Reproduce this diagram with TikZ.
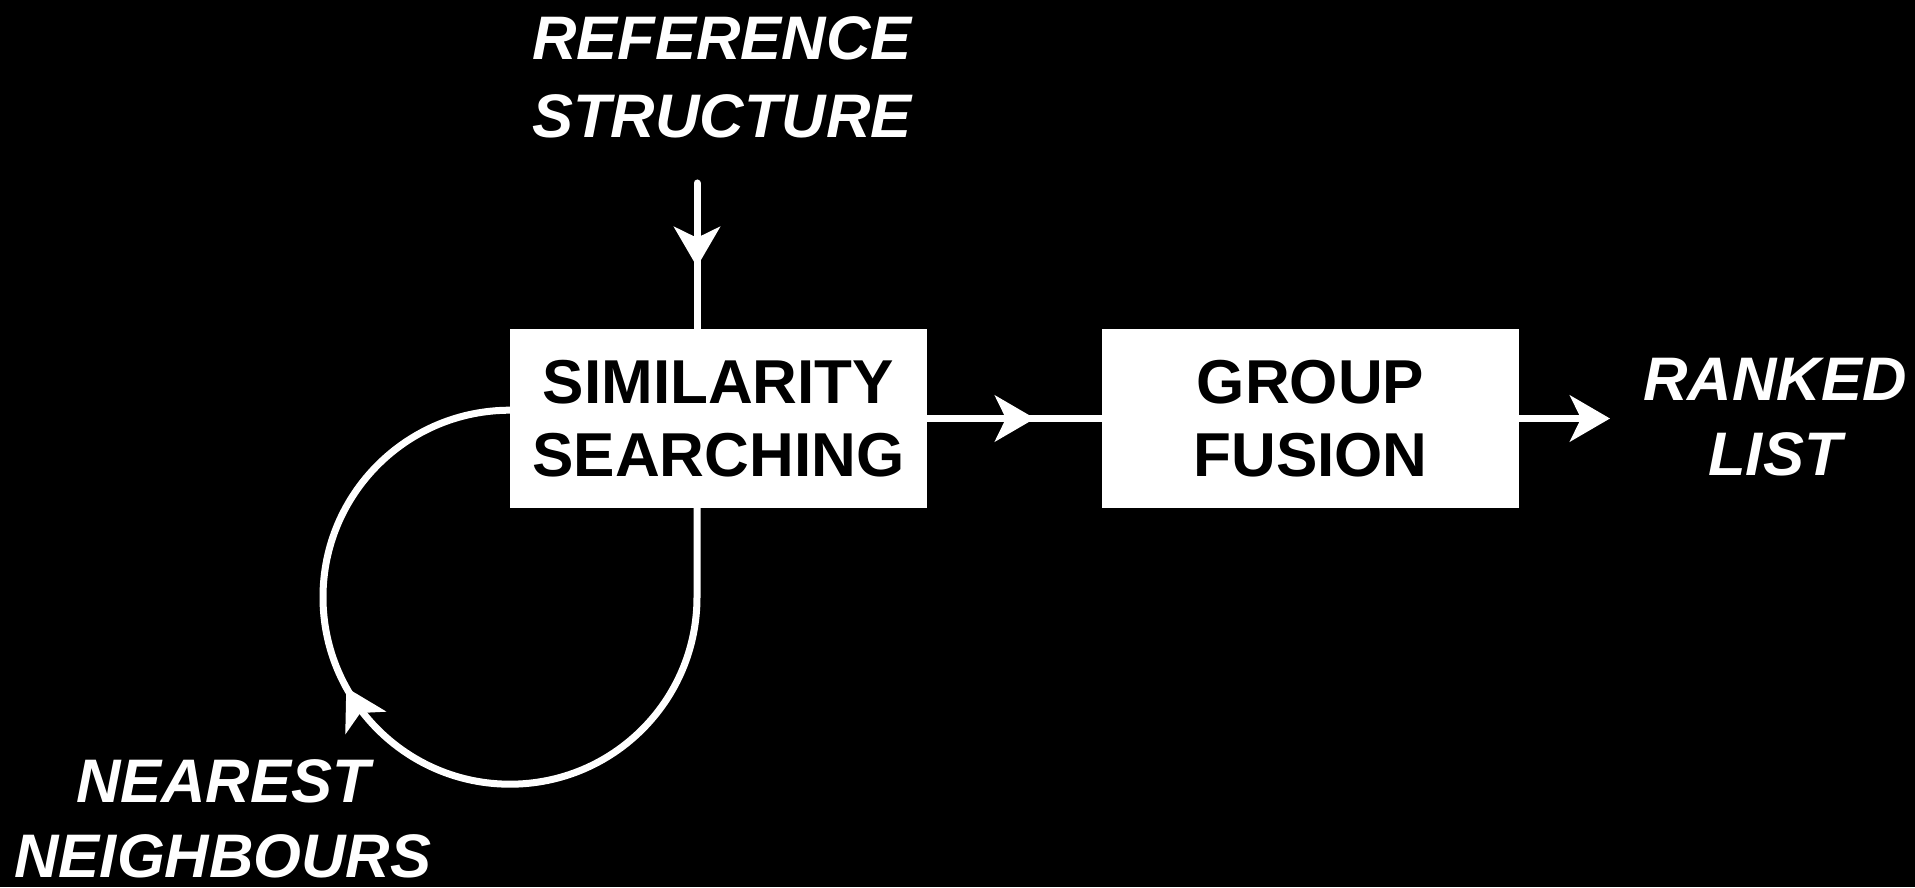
\documentclass[tikz,border=0pt]{standalone}
\usepackage{fontspec}
\setmainfont{Liberation Sans}
\usetikzlibrary{arrows.meta,decorations.markings}
\tikzset{
  wire/.style={draw=white, line width=7pt},
  tipstyle/.tip={Stealth[length=40pt, width=46pt, inset=11pt]},
  midarrow/.style={postaction={decorate}, decoration={markings, mark=at position #1 with {\arrow{tipstyle}}}},
  procbox/.style={fill=white, draw=none, minimum width=417pt, minimum height=179pt, inner sep=0pt,
    align=center, text=black, font=\fontsize{62}{73}\selectfont\bfseries},
  lbl/.style={text=white, align=center, inner sep=0pt, font=\fontsize{61.5}{#1}\selectfont\bfseries\itshape},
}
\begin{document}
\begin{tikzpicture}[x=1pt, y=1pt]
\fill[black] (0,0) rectangle (1915,887);
\useasboundingbox (0,0) rectangle (1915,887);
\node[procbox] (s1) at (718.5,468.5) {SIMILARITY\\SEARCHING};
\node[procbox] (g1) at (1310.5,468.5) {GROUP\\FUSION};
\node[lbl=78] (ref) at (722,809.5) {REFERENCE\\STRUCTURE};
\node[lbl=75] (rank) at (1775,470) {RANKED\\LIST};
\node[lbl=75] (near) at (223,68) {NEAREST\\NEIGHBOURS};
\coordinate (refpt) at (697,704);
\coordinate (rankend) at (1610,468.5);
\draw[wire, line cap=round, midarrow=0.575] (refpt) -- (refpt |- s1.north);
\draw[wire, midarrow=0.617] (s1.east) -- (g1.west);
\draw[wire, -{tipstyle}] (g1.east) -- (rankend);
\draw[wire, midarrow=0.6] (refpt |- s1.south) -- ++(0,-89) arc[start angle=0, end angle=-270, radius=187];
\end{tikzpicture}
\end{document}
